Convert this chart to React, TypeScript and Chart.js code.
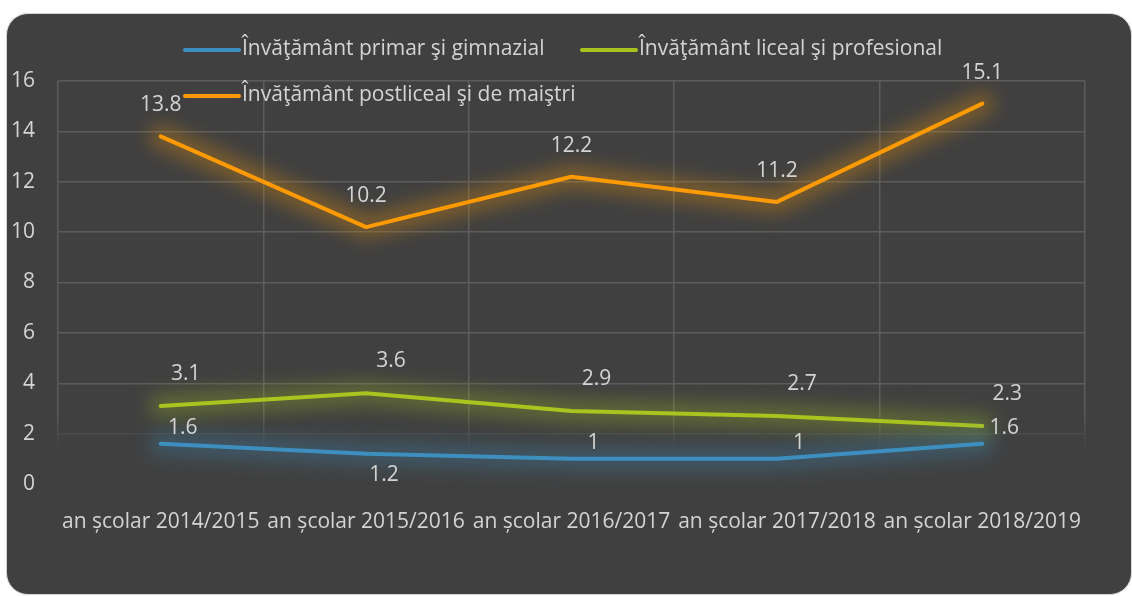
import React, { useEffect, useRef } from "react";
import { Chart, registerables } from "chart.js";

Chart.register(...registerables);

const categories = [
  "an școlar 2014/2015",
  "an școlar 2015/2016",
  "an școlar 2016/2017",
  "an școlar 2017/2018",
  "an școlar 2018/2019",
];
const primarGimnazial = [1.6, 1.2, 1, 1, 1.6];
const licealProfesional = [3.1, 3.6, 2.9, 2.7, 2.3];
const postlicealMaistri = [13.8, 10.2, 12.2, 11.2, 15.1];
const seriesNames = [
  "Învăţământ primar şi gimnazial",
  "Învăţământ liceal şi profesional",
  "Învăţământ postliceal şi de maiştri",
];
const yTicks = { min: 0, max: 16, step: 2 };

const COLORS = ["#3d8fc0", "#a9c41f", "#ff9a00"];
const TEXT = "#d4d4d4";
const GRID = "#5c5c5c";
const FONT = "'Open Sans', sans-serif";
const FS = 21;

function hexA(hex: string, a: number) {
  const n = parseInt(hex.slice(1), 16);
  return `rgba(${(n >> 16) & 255},${(n >> 8) & 255},${n & 255},${a})`;
}

// soft glow under each line: draw a blurred copy first
const glowPlugin = {
  id: "glow",
  beforeDatasetDraw(chart: any, args: any) {
    const ctx = chart.ctx;
    const pts = args.meta.data;
    const c = COLORS[args.index];
    ctx.save();
    ctx.filter = "blur(9px)";
    ctx.strokeStyle = hexA(c, 0.3);
    ctx.lineWidth = 24;
    ctx.lineJoin = "round";
    ctx.lineCap = "round";
    ctx.beginPath();
    pts.forEach((p: any, i: number) => (i ? ctx.lineTo(p.x, p.y) : ctx.moveTo(p.x, p.y)));
    ctx.stroke();
    ctx.restore();
  },
};

// label placement per series: [dx, dy]; some points sit below the line
const labelPlace: any = {
  0: { dx: 22, dy: -16, below: { 1: [18, 21] } },
  1: { dx: 25, dy: -32, below: {} },
  2: { dx: 0, dy: -31, below: {} },
};

const labelsPlugin = {
  id: "valueLabels",
  afterDatasetsDraw(chart: any) {
    const ctx = chart.ctx;
    ctx.save();
    ctx.font = `${FS}px ${FONT}`;
    ctx.fillStyle = TEXT;
    ctx.textAlign = "center";
    ctx.textBaseline = "middle";
    chart.data.datasets.forEach((ds: any, i: number) => {
      const meta = chart.getDatasetMeta(i);
      const p = labelPlace[i];
      meta.data.forEach((pt: any, j: number) => {
        const o = p.below[j] || [p.dx, p.dy];
        ctx.fillText(String(ds.data[j]), pt.x + o[0], pt.y + o[1]);
      });
    });
    ctx.restore();
  },
};

const legendPlugin = {
  id: "customLegend",
  afterDraw(chart: any) {
    const ctx = chart.ctx;
    ctx.save();
    ctx.font = `${FS}px ${FONT}`;
    ctx.textBaseline = "middle";
    ctx.textAlign = "left";
    const items = [
      { x: 185, y: 50 },
      { x: 582, y: 50 },
      { x: 185, y: 96 },
    ];
    items.forEach((it, i) => {
      ctx.strokeStyle = COLORS[i];
      ctx.lineWidth = 4;
      ctx.lineCap = "round";
      ctx.beginPath();
      ctx.moveTo(it.x, it.y);
      ctx.lineTo(it.x + 54, it.y);
      ctx.stroke();
      ctx.fillStyle = TEXT;
      ctx.fillText(chart.data.datasets[i].label, it.x + 57, it.y - 1);
    });
    ctx.restore();
  },
};

export default function App() {
  const ref = useRef<HTMLCanvasElement>(null);
  useEffect(() => {
    if (!ref.current) return;
    const mk = (label: string, data: number[], i: number) => ({
      label,
      data,
      borderColor: COLORS[i],
      backgroundColor: COLORS[i],
      borderWidth: 4,
      pointRadius: 0,
      tension: 0,
      clip: false as any,
      borderCapStyle: "round" as any,
      borderJoinStyle: "round" as any,
    });
    const chart = new Chart(ref.current, {
      type: "line",
      data: {
        labels: categories,
        datasets: [
          mk(seriesNames[0], primarGimnazial, 0),
          mk(seriesNames[1], licealProfesional, 1),
          mk(seriesNames[2], postlicealMaistri, 2),
        ],
      },
      options: {
        responsive: false,
        animation: false,
        layout: { padding: { left: 0, right: 47, top: 81, bottom: 0 } },
        plugins: { legend: { display: false }, tooltip: { enabled: false } },
        scales: {
          x: {
            offset: true,
            border: { display: false },
            grid: {
              offset: true,
              drawTicks: false,
              lineWidth: 1.5,
              color: (c: any) => {
                const ch = c.chart;
                const g = ch.ctx.createLinearGradient(0, 81, 0, 484);
                g.addColorStop(0, GRID);
                g.addColorStop(0.82, GRID);
                g.addColorStop(0.92, "rgba(92,92,92,0)");
                g.addColorStop(1, "rgba(92,92,92,0)");
                return g;
              },
            },
            ticks: {
              color: TEXT,
              font: { family: FONT, size: FS },
              padding: 25,
              autoSkip: false,
              maxRotation: 0,
              minRotation: 0,
            },
            afterFit: (s: any) => {
              s.height = 112;
            },
          },
          y: {
            min: yTicks.min,
            max: yTicks.max,
            border: { display: false },
            grid: {
              drawTicks: false,
              lineWidth: 1.5,
              color: (c: any) =>
                c.tick && c.tick.value === 0
                  ? "rgba(0,0,0,0)"
                  : c.tick && c.tick.value === 2
                  ? "rgba(92,92,92,0.35)"
                  : GRID,
            },
            ticks: {
              stepSize: yTicks.step,
              color: TEXT,
              font: { family: FONT, size: FS },
              padding: 23,
            },
            afterFit: (s: any) => {
              s.width = 58;
            },
          },
        },
      },
      plugins: [glowPlugin, labelsPlugin, legendPlugin],
    });
    return () => chart.destroy();
  }, []);

  return (
    <div style={{ position: "absolute", left: 0, top: 0, width: 1132, height: 596, background: "#ffffff", overflow: "hidden" }}>
      <div
        style={{
          position: "absolute",
          left: 6,
          top: 13,
          width: 1126,
          height: 582,
          boxSizing: "border-box",
          background: "#404040",
          border: "1.5px solid #d6d6d6",
          borderRadius: 22,
        }}
      />
      <canvas ref={ref} width={1132} height={596} style={{ position: "absolute", left: 0, top: 0 }} />
    </div>
  );
}
